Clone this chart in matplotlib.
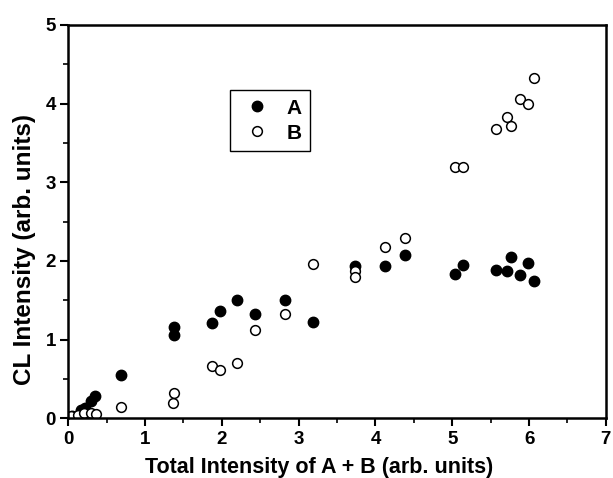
import matplotlib
matplotlib.use("Agg")
import matplotlib.pyplot as plt
from matplotlib.ticker import MultipleLocator

plt.rcParams['font.family'] = ['Liberation Sans', 'DejaVu Sans']
plt.rcParams['font.weight'] = 'bold'

# series A (filled)
a_x = [0.05, 0.17, 0.22, 0.30, 0.35, 0.69, 1.37, 1.38, 1.87, 1.97, 2.20, 2.43, 2.82, 3.18,
       3.73, 4.12, 4.38, 5.04, 5.14, 5.57, 5.71, 5.77, 5.88, 5.99, 6.07]
a_y = [0.03, 0.10, 0.13, 0.22, 0.28, 0.55, 1.16, 1.06, 1.21, 1.37, 1.50, 1.32, 1.50, 1.22,
       1.94, 1.94, 2.08, 1.84, 1.95, 1.88, 1.87, 2.05, 1.82, 1.98, 1.75]

# series B (open)
b_x = [0.04, 0.13, 0.21, 0.30, 0.36, 0.69, 1.36, 1.37, 1.87, 1.97, 2.20, 2.43, 2.82, 3.18,
       3.73, 3.73, 4.12, 4.38, 5.03, 5.14, 5.57, 5.71, 5.77, 5.88, 5.99, 6.07]
b_y = [0.03, 0.04, 0.07, 0.07, 0.06, 0.14, 0.20, 0.32, 0.67, 0.61, 0.70, 1.12, 1.32, 1.96,
       1.87, 1.79, 2.18, 2.29, 3.20, 3.20, 3.68, 3.83, 3.72, 4.06, 4.00, 4.32]

fig = plt.figure(figsize=(6.13, 4.78), dpi=100)
ax = fig.add_axes([0.1114, 0.1249, 0.877, 0.823])

ax.plot(a_x, a_y, 'o', color='black', markersize=7.5, linestyle='none', label='A')
ax.plot(b_x, b_y, 'o', markerfacecolor='white', markeredgecolor='black', markeredgewidth=1.1,
        markersize=7, linestyle='none', label='B')

ax.set_xlim(0, 7)
ax.set_ylim(0, 5)
ax.xaxis.set_major_locator(MultipleLocator(1))
ax.xaxis.set_minor_locator(MultipleLocator(0.5))
ax.yaxis.set_major_locator(MultipleLocator(1))
ax.yaxis.set_minor_locator(MultipleLocator(0.5))
ax.tick_params(which='major', direction='out', length=6, width=1.5, labelsize=13.5, pad=3)
ax.tick_params(which='minor', direction='out', length=3.5, width=1.2)
for s in ax.spines.values():
    s.set_linewidth(1.8)

ax.set_xlabel('Total Intensity of A + B (arb. units)', fontsize=15.5, fontweight='bold')
ax.set_ylabel('CL Intensity (arb. units)', fontsize=17.5, fontweight='bold')
ax.xaxis.set_label_coords(0.467, -0.098)
ax.yaxis.set_label_coords(-0.06, 0.428)

leg = ax.legend(loc='upper left', bbox_to_anchor=(0.301, 0.834), fancybox=False, framealpha=1,
                edgecolor='black', fontsize=15, handletextpad=0.53, borderpad=0.4,
                labelspacing=0.3, handlelength=1.77, borderaxespad=0)
leg.get_frame().set_linewidth(1.0)
for t in leg.get_texts():
    t.set_fontweight('bold')

fig.savefig('out.png', dpi=100)
